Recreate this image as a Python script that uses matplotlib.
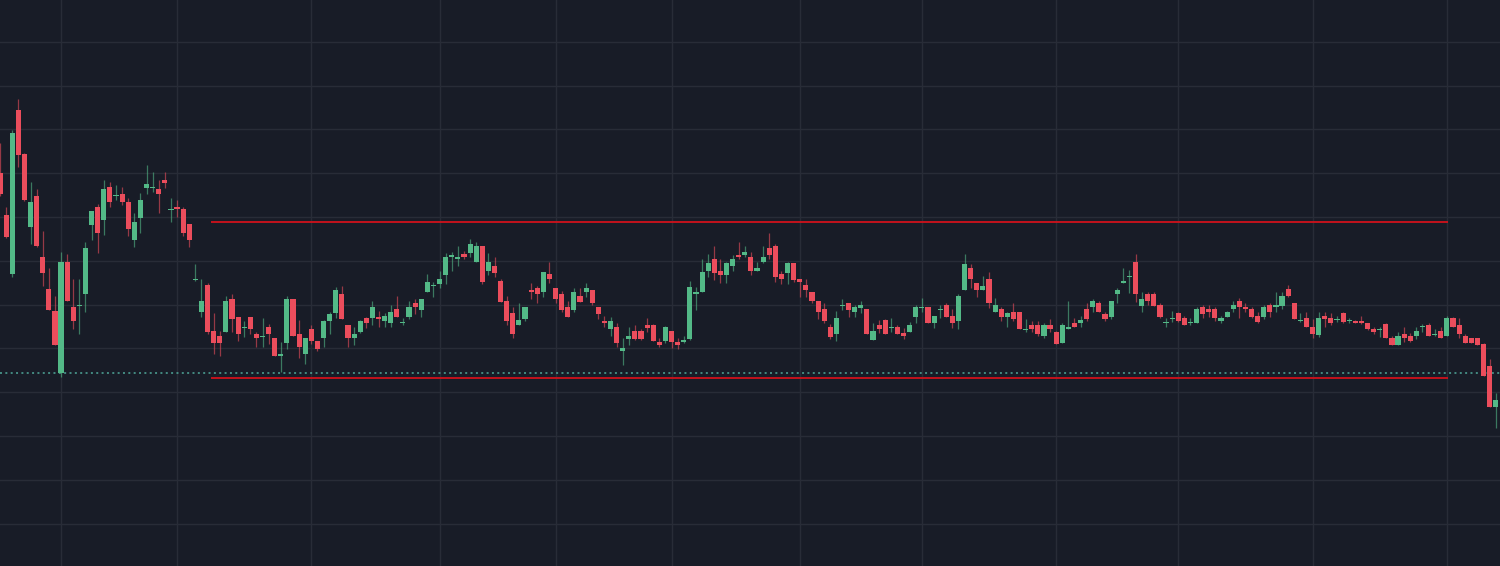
import numpy as np
import matplotlib
matplotlib.use("Agg")
import matplotlib.pyplot as plt

## OHLC (arbitrary price units)
opens = [4.27, 3.85, 3.26, 4.90, 4.46, 3.73, 4.04, 3.43, 3.11, 2.89,
         2.27, 3.38, 2.93, 2.94, 3.06, 3.75, 3.93, 3.80, 4.13, 4.04,
         4.06, 3.98, 3.60, 3.82, 4.12, 4.12, 4.11, 4.20, 3.90, 3.93,
         3.91, 3.76, 3.20, 2.88, 3.15, 2.69, 2.64, 2.68, 3.01, 2.83,
         2.72, 2.83, 2.66, 2.63, 2.73, 2.62, 2.44, 2.57, 3.01, 2.66,
         2.46, 2.71, 2.59, 2.62, 2.79, 2.87, 3.06, 2.75, 2.62, 2.68,
         2.82, 2.82, 2.83, 2.79, 2.77, 2.91, 2.77, 2.83, 2.97, 2.90,
         3.08, 3.14, 3.16, 3.25, 3.43, 3.41, 3.46, 3.47, 3.38, 3.54,
         3.29, 3.34, 3.19, 2.99, 2.87, 2.75, 2.81, 3.10, 3.12, 3.08,
         3.26, 3.12, 3.06, 2.93, 2.90, 3.04, 3.08, 3.10, 2.93, 2.79,
         2.71, 2.73, 2.49, 2.61, 2.69, 2.69, 2.75, 2.75, 2.58, 2.59,
         2.69, 2.58, 2.58, 2.61, 3.06, 3.08, 3.29, 3.41, 3.29, 3.25,
         3.34, 3.45, 3.45, 3.43, 3.29, 3.38, 3.52, 3.54, 3.26, 3.27,
         3.37, 3.21, 3.15, 3.08, 2.99, 2.91, 2.73, 2.66, 2.94, 2.97,
         2.88, 2.92, 2.91, 2.60, 2.75, 2.80, 2.72, 2.73, 2.67, 2.68,
         2.83, 2.92, 2.93, 2.77, 2.90, 2.95, 2.84, 2.79, 3.10, 3.32,
         3.17, 3.10, 3.21, 2.88, 2.91, 2.83, 2.88, 2.88, 2.70, 2.75,
         2.75, 2.64, 2.75, 2.68, 2.57, 2.71, 2.77, 2.77, 2.91, 2.93,
         2.97, 2.86, 2.83, 3.06, 3.17, 3.23, 3.38, 2.94, 3.06, 3.06,
         2.95, 2.77, 2.81, 2.87, 2.82, 2.77, 2.77, 2.93, 2.91, 2.91,
         2.79, 2.83, 2.91, 2.99, 2.93, 2.91, 2.84, 2.83, 2.95, 2.93,
         2.94, 3.11, 2.97, 2.79, 2.82, 2.73, 2.65, 2.84, 2.82, 2.80,
         2.87, 2.79, 2.79, 2.79, 2.77, 2.71, 2.70, 2.76, 2.62, 2.55,
         2.66, 2.64, 2.64, 2.73, 2.75, 2.65, 2.69, 2.64, 2.82, 2.75,
         2.64, 2.62, 2.62, 2.56, 2.34, 1.93]

highs = [4.57, 3.93, 4.70, 5.01, 4.47, 4.18, 4.11, 3.69, 3.32, 3.04,
         3.48, 3.46, 3.21, 3.21, 3.58, 3.89, 3.96, 4.20, 4.18, 4.15,
         4.13, 4.02, 3.87, 4.07, 4.35, 4.28, 4.20, 4.28, 4.02, 4.00,
         3.93, 3.76, 3.36, 3.21, 3.17, 2.87, 2.69, 3.04, 3.06, 2.83,
         2.79, 2.83, 2.68, 2.82, 2.76, 2.62, 2.58, 3.04, 3.01, 2.80,
         2.62, 2.75, 2.59, 2.80, 2.88, 3.13, 3.14, 2.75, 2.73, 2.80,
         2.83, 2.99, 2.89, 2.87, 2.95, 3.04, 2.82, 2.99, 3.01, 3.01,
         3.26, 3.18, 3.29, 3.47, 3.48, 3.54, 3.49, 3.61, 3.58, 3.54,
         3.47, 3.43, 3.21, 3.04, 2.93, 2.97, 2.93, 3.17, 3.14, 3.28,
         3.38, 3.12, 3.09, 2.99, 3.12, 3.12, 3.17, 3.10, 2.93, 2.84,
         2.83, 2.77, 2.62, 2.73, 2.75, 2.71, 2.82, 2.76, 2.62, 2.74,
         2.69, 2.62, 2.64, 3.19, 3.13, 3.41, 3.46, 3.54, 3.41, 3.38,
         3.45, 3.58, 3.54, 3.48, 3.38, 3.54, 3.67, 3.56, 3.29, 3.38,
         3.37, 3.21, 3.21, 3.08, 2.99, 2.97, 2.76, 2.89, 3.01, 2.97,
         2.95, 2.99, 2.91, 2.77, 2.80, 2.81, 2.82, 2.75, 2.72, 2.78,
         2.95, 3.02, 2.93, 2.84, 2.95, 2.97, 2.91, 3.06, 3.46, 3.36,
         3.17, 3.24, 3.28, 3.02, 2.93, 2.88, 2.97, 2.88, 2.81, 2.79,
         2.79, 2.77, 2.81, 2.69, 2.77, 2.99, 2.82, 2.84, 2.97, 3.01,
         2.99, 2.88, 2.99, 3.12, 3.32, 3.30, 3.46, 3.08, 3.08, 3.08,
         2.97, 2.82, 2.89, 2.88, 2.84, 2.82, 2.93, 2.95, 2.95, 2.93,
         2.84, 2.89, 2.99, 3.02, 2.97, 2.93, 2.88, 2.95, 2.97, 3.08,
         3.08, 3.15, 2.97, 2.87, 2.88, 2.81, 2.88, 2.88, 2.87, 2.84,
         2.88, 2.82, 2.80, 2.84, 2.77, 2.73, 2.73, 2.77, 2.64, 2.68,
         2.73, 2.67, 2.73, 2.76, 2.77, 2.71, 2.73, 2.84, 2.83, 2.82,
         2.66, 2.62, 2.62, 2.57, 2.41, 2.07]

lows = [4.04, 3.62, 3.23, 4.33, 3.99, 3.56, 3.53, 3.14, 2.90, 2.55,
        2.23, 2.99, 2.71, 2.66, 2.88, 3.60, 3.47, 3.65, 3.93, 4.00,
        3.95, 3.64, 3.53, 3.67, 4.06, 4.08, 3.87, 4.12, 3.78, 3.83,
        3.64, 3.53, 3.19, 2.83, 2.66, 2.46, 2.44, 2.68, 2.68, 2.59,
        2.63, 2.66, 2.53, 2.53, 2.56, 2.44, 2.28, 2.51, 2.64, 2.42,
        2.36, 2.56, 2.49, 2.53, 2.66, 2.82, 2.81, 2.53, 2.55, 2.67,
        2.72, 2.75, 2.73, 2.73, 2.73, 2.83, 2.75, 2.81, 2.86, 2.83,
        3.08, 3.03, 3.12, 3.16, 3.29, 3.34, 3.41, 3.43, 3.38, 3.16,
        3.25, 3.23, 2.98, 2.75, 2.62, 2.75, 2.79, 3.01, 2.97, 3.03,
        3.17, 2.97, 2.88, 2.83, 2.88, 2.98, 3.03, 2.95, 2.81, 2.73,
        2.64, 2.53, 2.35, 2.55, 2.60, 2.60, 2.68, 2.59, 2.53, 2.57,
        2.52, 2.51, 2.57, 2.60, 2.90, 3.08, 3.23, 3.20, 3.17, 3.17,
        3.29, 3.41, 3.43, 3.25, 3.29, 3.37, 3.41, 3.18, 3.16, 3.16,
        3.18, 3.03, 3.03, 2.97, 2.81, 2.77, 2.61, 2.59, 2.90, 2.83,
        2.83, 2.87, 2.66, 2.60, 2.67, 2.66, 2.68, 2.66, 2.61, 2.68,
        2.77, 2.88, 2.77, 2.72, 2.82, 2.83, 2.72, 2.71, 3.10, 3.12,
        3.03, 3.10, 2.92, 2.88, 2.79, 2.73, 2.79, 2.71, 2.68, 2.68,
        2.64, 2.62, 2.68, 2.56, 2.57, 2.71, 2.73, 2.73, 2.79, 2.88,
        2.88, 2.79, 2.81, 2.97, 3.17, 3.07, 2.98, 2.88, 2.95, 2.94,
        2.82, 2.73, 2.78, 2.78, 2.75, 2.75, 2.77, 2.82, 2.83, 2.79,
        2.77, 2.83, 2.88, 2.82, 2.88, 2.82, 2.77, 2.81, 2.83, 2.88,
        2.91, 3.03, 2.81, 2.78, 2.73, 2.62, 2.63, 2.73, 2.75, 2.78,
        2.77, 2.77, 2.77, 2.76, 2.70, 2.66, 2.63, 2.62, 2.55, 2.55,
        2.58, 2.58, 2.61, 2.68, 2.64, 2.64, 2.62, 2.64, 2.73, 2.62,
        2.57, 2.57, 2.55, 2.24, 1.93, 1.72]

closes = [4.06, 3.63, 4.67, 4.45, 4.00, 3.98, 3.54, 3.27, 2.90, 2.55,
          3.38, 2.99, 2.79, 2.95, 3.52, 3.89, 3.67, 4.11, 3.98, 4.05,
          3.98, 3.71, 3.78, 4.00, 4.16, 4.13, 4.06, 4.17, 3.91, 3.91,
          3.67, 3.60, 3.21, 2.99, 2.68, 2.57, 2.57, 2.99, 2.81, 2.66,
          2.73, 2.71, 2.62, 2.64, 2.66, 2.44, 2.46, 3.01, 2.64, 2.53,
          2.62, 2.59, 2.51, 2.79, 2.86, 3.10, 2.81, 2.62, 2.66, 2.79,
          2.77, 2.93, 2.81, 2.84, 2.88, 2.83, 2.78, 2.93, 2.93, 3.01,
          3.18, 3.15, 3.21, 3.43, 3.45, 3.43, 3.43, 3.56, 3.54, 3.18,
          3.38, 3.27, 2.98, 2.79, 2.66, 2.80, 2.93, 3.08, 3.06, 3.28,
          3.21, 3.01, 2.90, 2.83, 3.08, 2.98, 3.12, 2.97, 2.86, 2.77,
          2.79, 2.57, 2.52, 2.64, 2.61, 2.61, 2.72, 2.59, 2.55, 2.73,
          2.58, 2.55, 2.60, 3.13, 3.08, 3.28, 3.37, 3.27, 3.25, 3.37,
          3.41, 3.43, 3.48, 3.29, 3.32, 3.43, 3.45, 3.23, 3.21, 3.37,
          3.20, 3.18, 3.10, 2.99, 2.88, 2.79, 2.63, 2.82, 2.95, 2.90,
          2.93, 2.95, 2.66, 2.69, 2.71, 2.66, 2.73, 2.66, 2.64, 2.75,
          2.93, 2.93, 2.77, 2.84, 2.91, 2.83, 2.77, 3.04, 3.36, 3.21,
          3.10, 3.14, 2.97, 2.95, 2.83, 2.87, 2.81, 2.71, 2.71, 2.71,
          2.66, 2.75, 2.71, 2.56, 2.75, 2.73, 2.73, 2.80, 2.81, 2.99,
          2.88, 2.81, 2.99, 3.10, 3.19, 3.24, 3.06, 3.01, 2.99, 2.94,
          2.83, 2.78, 2.82, 2.79, 2.75, 2.78, 2.91, 2.86, 2.88, 2.82,
          2.82, 2.88, 2.95, 2.93, 2.91, 2.83, 2.78, 2.93, 2.88, 2.95,
          3.04, 3.04, 2.81, 2.80, 2.73, 2.66, 2.82, 2.81, 2.77, 2.81,
          2.78, 2.80, 2.77, 2.77, 2.71, 2.68, 2.71, 2.62, 2.55, 2.64,
          2.62, 2.59, 2.69, 2.74, 2.64, 2.66, 2.62, 2.82, 2.73, 2.66,
          2.57, 2.57, 2.55, 2.24, 1.93, 2.00]

# month boundaries (bar index) and the drawn levels
month_starts = [10, 29, 51, 72, 91, 110, 131, 151, 173, 193, 215, 237]
range_top = 3.78
range_bottom = 2.22
range_from, range_to = 34.5, 237.2
marker_level = 2.27

bg = "#181c27"
grid_col = "#282c37"
up_col = "#53b987"
down_col = "#eb4d5c"

o = np.array(opens)
h = np.array(highs)
l = np.array(lows)
c = np.array(closes)
x = np.arange(len(o))
up = c >= o
cols = np.where(up, up_col, down_col)

fig = plt.figure(figsize=(15, 5.66), dpi=100, facecolor=bg)
ax = fig.add_axes([0, 0, 1, 1])
ax.set_facecolor(bg)

# grid
for xv in month_starts:
    ax.axvline(xv, color=grid_col, lw=1, zorder=0)
grid_levels = 2.517 + 0.438 * np.arange(-5, 9)
for yv in grid_levels:
    ax.axhline(yv, color=grid_col, lw=1, zorder=0)

# wicks then bodies
ax.vlines(x, l, h, colors=cols, lw=0.9, alpha=0.6, zorder=2)
body = np.maximum(np.abs(c - o), 0.012)
ax.bar(x, body, bottom=np.minimum(o, c), width=0.84, color=cols, lw=0, zorder=3)

# levels
ax.hlines([range_top, range_bottom], range_from, range_to, colors="#d0121b", lw=1.3, zorder=4)
ax.axhline(marker_level, color="#4fa89a", lw=1.1, ls=(0, (1.3, 2.2)), zorder=1)

ax.set_xlim(0, 1500 / 6.105)
ax.set_ylim(0.34, 6.0)
for s in ax.spines.values():
    s.set_visible(False)
ax.set_xticks([])
ax.set_yticks([])

fig.savefig("out.png", dpi=100, facecolor=bg)
